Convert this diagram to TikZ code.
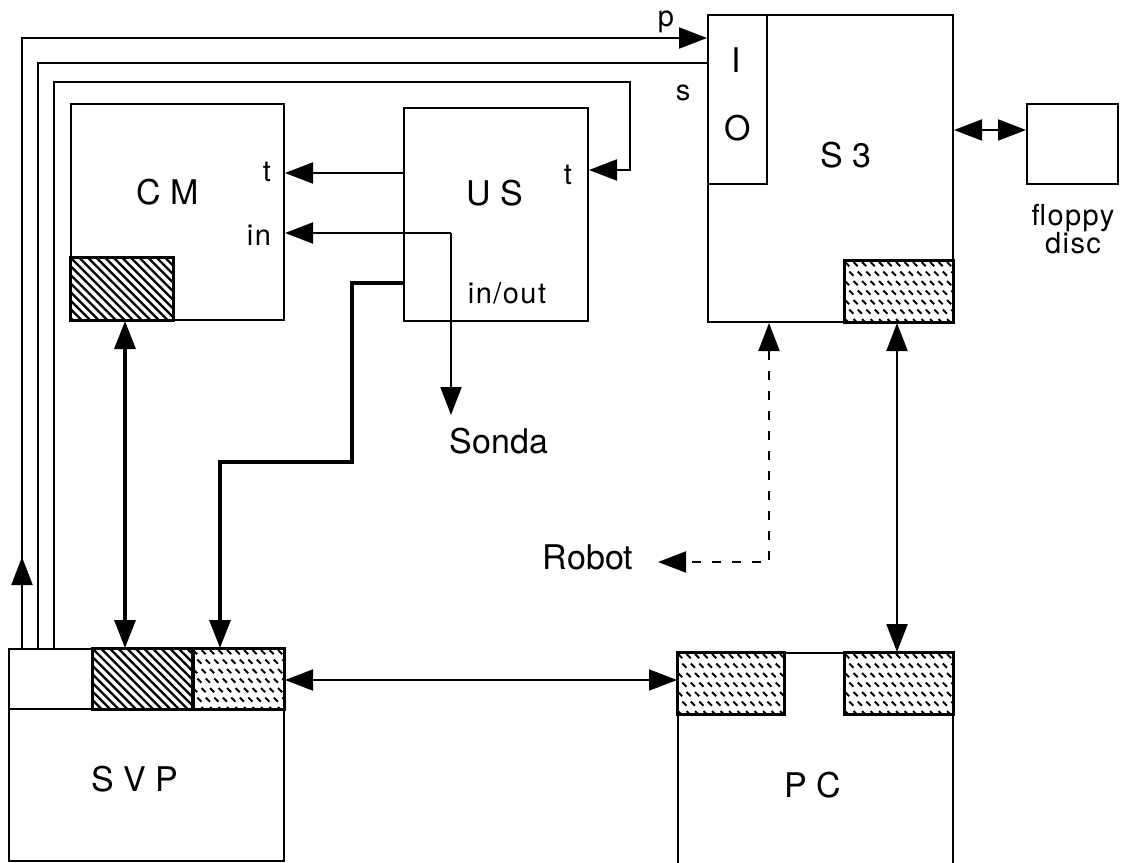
\documentclass[tikz,border=0pt]{standalone}
\usepackage{fontspec}
\setmainfont{TeX Gyre Heros}
\newfontfamily\spaced[LetterSpace=5]{TeX Gyre Heros}
\usetikzlibrary{arrows.meta,calc}
\tikzset{
  box/.style={draw, line width=2pt, inner sep=0pt, anchor=north west},
  ln/.style={line width=2pt},
  fat/.style={line width=3.2pt},
  tip/.style={-{Triangle[length=28pt,width=21pt]}},
  dtip/.style={{Triangle[length=28pt,width=21pt]}-{Triangle[length=28pt,width=21pt]}},
  big/.style={font=\fontsize{34}{38}\selectfont, inner sep=0pt},
  small/.style={font=\spaced\fontsize{29}{30}\selectfont, inner sep=0pt},
  robotdash/.style={line width=2pt, dash pattern=on 9pt off 11pt},
}
\newcommand{\hatchin}[1]{%
  \begin{scope}
    \clip (#1.north west) rectangle (#1.south east);
    \foreach \i in {-9,...,14} {\draw[line width=2.3pt] ($(#1.north west)+(\i*8.6,0)$) -- ++(80,80);}
  \end{scope}}
\newcommand{\dotsin}[1]{%
  \begin{scope}
    \clip (#1.north west) rectangle (#1.south east);
    \foreach \r in {0,...,6} {\foreach \c in {0,...,13} {
      \pgfmathsetmacro{\xx}{\c*8.5+mod(\r,2)*4.25+1}
      \pgfmathsetmacro{\yy}{\r*9.5+2}
      \draw[line width=1.8pt] ($(#1.north west)+(\xx,\yy)$) -- ++(4.2,4.2);}}
  \end{scope}}
\begin{document}
\begin{tikzpicture}[x=1pt,y=-1pt]
\clip (0,0) rectangle (1123,862);
\useasboundingbox (0,0) rectangle (1123,862);

% ---------- boxes ----------
\node[box, minimum width=213pt, minimum height=216pt] (cm) at (70,103) {};
\node[box, minimum width=102pt, minimum height=62pt] (cmh) at (70,257) {};
\node[box, minimum width=184pt, minimum height=213pt] (us) at (403,107) {};
\node[box, minimum width=245pt, minimum height=307pt] (s3) at (707,14) {};
\node[box, minimum width=59pt, minimum height=169pt] (io) at (707,14) {};
\node[box, minimum width=108pt, minimum height=61pt] (s3d) at (844,260) {};
\node[box, minimum width=91pt, minimum height=80pt] (fd) at (1026,103) {};
\node[box, minimum width=275pt, minimum height=212pt] (svp) at (8,648) {};
\node[box, minimum width=84pt, minimum height=60pt] (svpa) at (8,648) {};
\node[box, minimum width=100pt, minimum height=60pt] (svph) at (92,648) {};
\node[box, minimum width=91pt, minimum height=60pt] (svpd) at (192,648) {};
\node[box, minimum width=275pt, minimum height=240pt] (pc) at (677,652) {};
\node[box, minimum width=106pt, minimum height=61pt] (pcd1) at (677,652) {};
\node[box, minimum width=108pt, minimum height=61pt] (pcd2) at (844,652) {};

\hatchin{cmh}
\hatchin{svph}
\dotsin{s3d}
\dotsin{svpd}
\dotsin{pcd1}
\dotsin{pcd2}
\foreach \b in {cmh,s3d,svph,svpd,pcd1,pcd2}
  \draw[line width=2.2pt] (\b.north west) rectangle (\b.south east);

% ---------- labels ----------
\node[big] (cml) at (168,192) {C M};
\node[small] (cmt) at (267,172) {t};
\node[small] (cmin) at (259,235) {in};
\node[big] (usl) at (495,193) {U S};
\node[small] (ust) at (568,175) {t};
\node[small] (usio) at (507,293) {in/out};
\node[big] (s3l) at (846,155) {S 3};
\node[big] (iol) at (736,60) {I};
\node[big] (ioo) at (738,128) {O};
\node[small] (pl) at (666,22) {p};
\node[small] (sl) at (683,93) {s};
\node[small, align=center, font=\spaced\fontsize{29}{26}\selectfont] (fdl) at (1073,229) {floppy\\disc};
\node[big] (sonda) at (499,441) {Sonda};
\node[big] (robot) at (588,557) {Robot};
\node[big] (svpl) at (135,779) {S V P};
\node[big] (pcl) at (813,785) {P C};

% ---------- coordinates ----------
\coordinate (xp) at (22,0);
\coordinate (xs) at (38,0);
\coordinate (xt) at (54,0);
\coordinate (xr) at (630,0);
\coordinate (yp) at (0,38);
\coordinate (ys) at (0,63);
\coordinate (yt) at (0,82);
\coordinate (yut) at (0,170);
\coordinate (upmid) at (22,557);
\coordinate (ycmt) at (0,173);
\coordinate (yin) at (0,233);
\coordinate (xin) at (451,0);
\coordinate (sondatip) at (451,415);
\coordinate (yio) at (0,283);
\coordinate (yio2) at (0,462);
\coordinate (xio1) at (352,0);
\coordinate (xio2) at (220,0);
\coordinate (xcm) at (125,0);
\coordinate (ysp) at (0,680);
\coordinate (xsp) at (897,0);
\coordinate (yfd) at (0,130);
\coordinate (xrb) at (769,0);
\coordinate (yrb) at (0,562);
\coordinate (rbt) at (658,562);

% ---------- connectors ----------
\draw[ln, tip] (xp |- svpa.north) -- (xp |- yp) -- (io.west |- yp);
\draw[ln, tip] (xp |- svpa.north) -- (upmid);
\draw[ln] (xs |- svpa.north) -- (xs |- ys) -- (io.west |- ys);
\draw[ln, tip] (xt |- svpa.north) -- (xt |- yt) -- (xr |- yt) -- (xr |- yut) -- (us.east |- yut);
\draw[ln, tip] (us.west |- ycmt) -- (cm.east |- ycmt);
\draw[ln, tip] (xin |- yin) -- (cm.east |- yin);
\draw[ln, tip] (xin |- yin) -- (sondatip);
\draw[fat, tip] (us.west |- yio) -- (xio1 |- yio) -- (xio1 |- yio2) -- (xio2 |- yio2) -- (xio2 |- svpd.north);
\draw[fat, dtip] (xcm |- cmh.south) -- (xcm |- svph.north);
\draw[ln, dtip] (svpd.east |- ysp) -- (pcd1.west |- ysp);
\draw[ln, dtip] (xsp |- s3d.south) -- (xsp |- pcd2.north);
\draw[ln, dtip] (s3.east |- yfd) -- (fd.west |- yfd);
\draw[robotdash, dtip] (xrb |- s3.south) -- (xrb |- yrb) -- (rbt);
\end{tikzpicture}
\end{document}
